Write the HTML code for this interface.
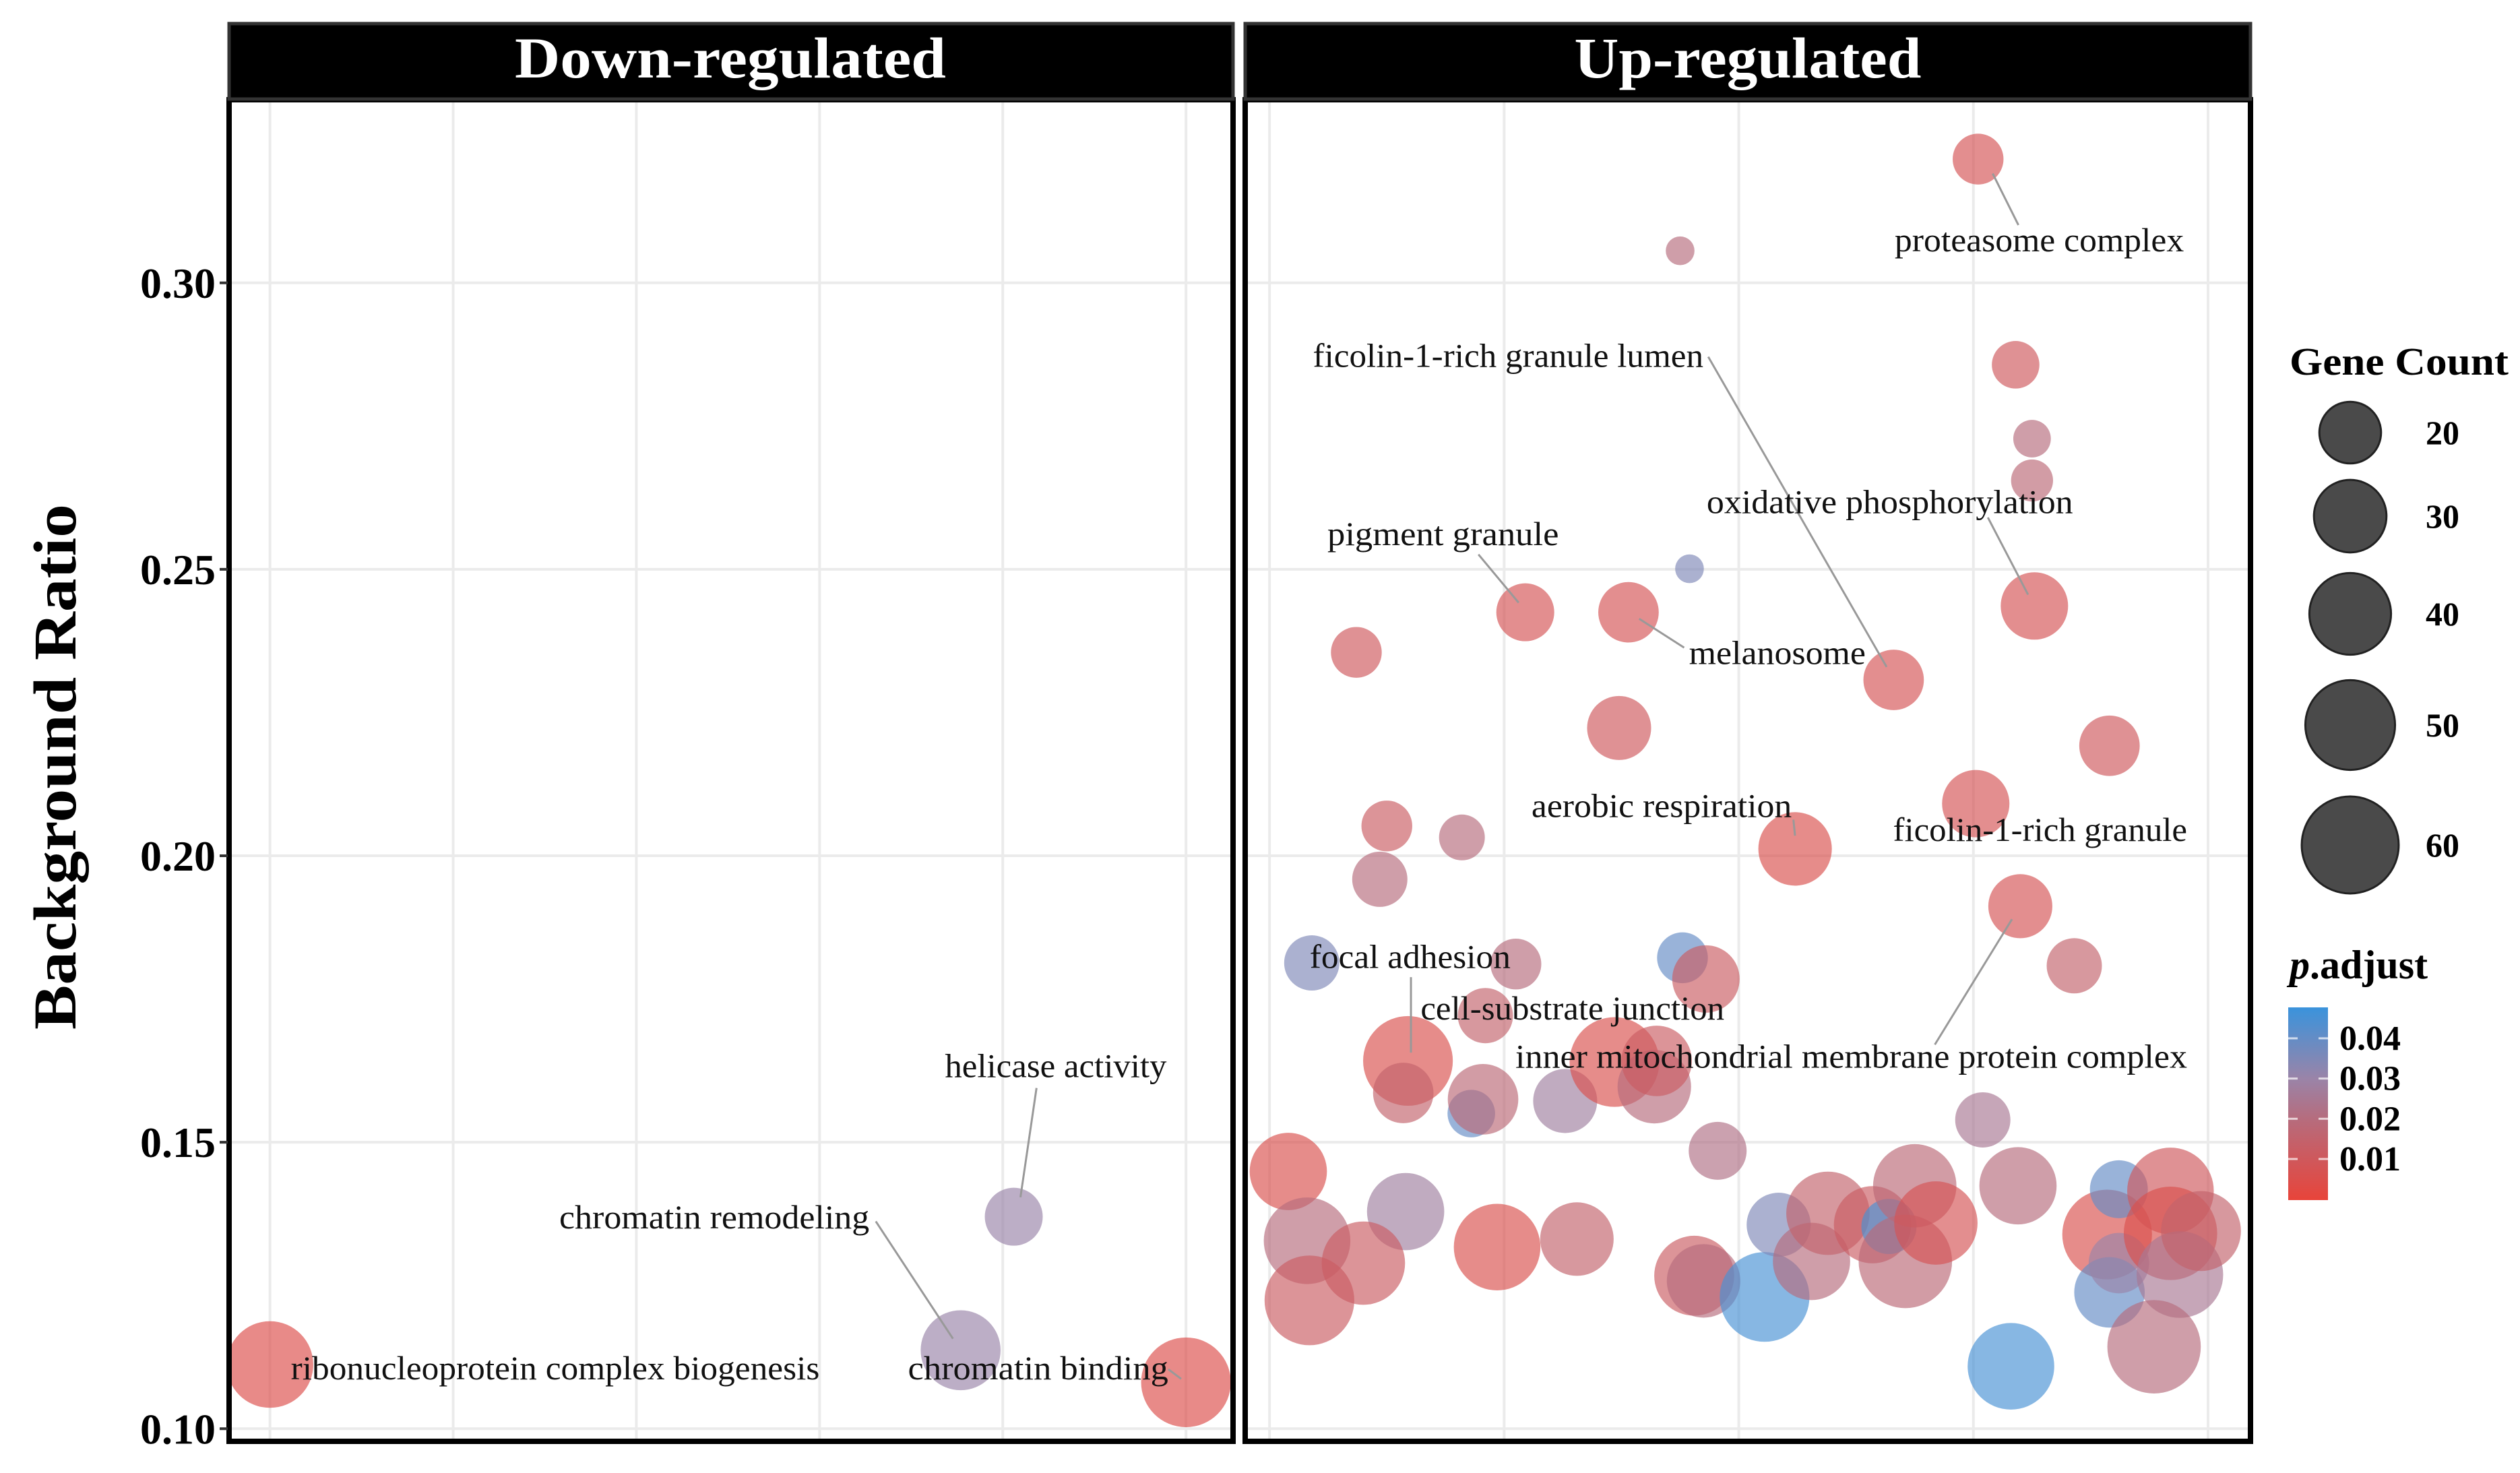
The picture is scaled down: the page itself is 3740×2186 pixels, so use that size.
<!DOCTYPE html>
<html><head><meta charset="utf-8"><style>
html,body{margin:0;padding:0;background:#fff;}
svg{display:block;}
text{font-family:"Liberation Serif",serif;}
</style></head><body>
<svg id="chart" width="3740" height="2186" viewBox="0 0 3740 2186" xmlns="http://www.w3.org/2000/svg">
<defs>
<linearGradient id="pgrad" x1="0" y1="1" x2="0" y2="0">
<stop offset="0" stop-color="#e8443a"/>
<stop offset="0.42" stop-color="#b66c7d"/>
<stop offset="0.63" stop-color="#9a84a8"/>
<stop offset="1" stop-color="#3a93dc"/>
</linearGradient>
<clipPath id="clipL"><rect x="344" y="150" width="1482" height="1985"/></clipPath>
<clipPath id="clipR"><rect x="1852" y="150" width="1484" height="1985"/></clipPath>
</defs>
<g id="gridL"></g>
<g id="gridR"></g>
<g id="ptsL" clip-path="url(#clipL)"></g>
<g id="ptsR" clip-path="url(#clipR)"></g>
<g id="labels"></g>
<rect x="340" y="148" width="1490" height="1991" fill="none" stroke="#000" stroke-width="8"/>
<rect x="1848" y="148" width="1492" height="1991" fill="none" stroke="#000" stroke-width="8"/>
<rect x="340" y="35" width="1490" height="112" fill="#000" stroke="#333" stroke-width="5"/>
<text x="1084" y="115" text-anchor="middle" font-size="86" font-weight="bold" fill="#fff" textLength="640" lengthAdjust="spacingAndGlyphs">Down-regulated</text>
<rect x="1848" y="35" width="1492" height="112" fill="#000" stroke="#333" stroke-width="5"/>
<text x="2594" y="115" text-anchor="middle" font-size="86" font-weight="bold" fill="#fff" textLength="515" lengthAdjust="spacingAndGlyphs">Up-regulated</text>
<g id="yaxis"></g>
<text transform="translate(112,1138) rotate(-90)" text-anchor="middle" font-size="90" font-weight="bold" fill="#000" textLength="780" lengthAdjust="spacingAndGlyphs">Background Ratio</text>
<g id="sizeLegend">
<text x="3398" y="556" font-size="58" font-weight="bold" textLength="325" lengthAdjust="spacingAndGlyphs">Gene Count</text>
</g>
<g id="colorLegend">
<text x="3398" y="1452" font-size="60" font-weight="bold"><tspan font-style="italic">p</tspan>.adjust</text>
<rect x="3396" y="1495" width="59" height="286" fill="url(#pgrad)"/>
</g>
</svg>
<script>
const yTicks = [0.10, 0.15, 0.20, 0.25, 0.30];
const yTickLabels = ["0.10", "0.15", "0.20", "0.25", "0.30"];
const downX = [0, 4.06, 3.77, 5.0];
const downY = [0.1112, 0.1370, 0.1137, 0.1081];
const downCount = [46, 17, 38, 50];
const downP = [0.005, 0.03, 0.03, 0.005];
const upX = [3.02,1.75,3.18,3.25,3.25,1.79,3.26,1.09,1.53,0.37,2.66,1.49,3.58,3.01,2.24,0.50,0.82,0.47,3.20,0.18,1.05,1.76,1.86,3.43,0.92,0.59,0.57,0.86,0.91,1.26,1.47,1.64,1.65,1.91,3.04,0.08,0.16,0.58,0.40,0.17,0.97,1.31,1.81,1.85,2.11,2.17,2.31,2.38,2.57,2.64,2.71,2.75,2.84,3.19,3.16,3.57,3.62,3.58,3.62,3.84,3.84,3.88,3.97,3.77];
const upY = [0.3216,0.3056,0.2857,0.2728,0.2655,0.2501,0.2436,0.2425,0.2425,0.2355,0.2307,0.2223,0.2192,0.2091,0.2012,0.2052,0.2032,0.1959,0.1912,0.1813,0.1811,0.1822,0.1785,0.1808,0.1721,0.1642,0.1586,0.1550,0.1575,0.1572,0.1640,0.1597,0.1642,0.1485,0.1539,0.1449,0.1328,0.1379,0.1289,0.1224,0.1317,0.1331,0.1267,0.1258,0.1230,0.1356,0.1292,0.1376,0.1356,0.1353,0.1292,0.1424,0.1359,0.1424,0.1109,0.1339,0.1418,0.1238,0.1289,0.1415,0.1341,0.1269,0.1345,0.1143];
const upCount = [12,2,10,5,7,2,25,17,19,12,19,22,19,25,31,12,9,15,22,15,12,12,25,15,15,50,19,10,28,22,50,31,28,17,15,35,46,35,42,50,46,31,38,31,50,22,35,42,35,15,55,42,42,35,46,50,17,28,19,46,55,46,38,55];
const upP = [0.008,0.02,0.01,0.02,0.018,0.035,0.008,0.008,0.008,0.01,0.008,0.01,0.01,0.008,0.006,0.012,0.02,0.02,0.008,0.035,0.02,0.04,0.012,0.015,0.015,0.006,0.015,0.04,0.018,0.028,0.006,0.02,0.012,0.022,0.025,0.006,0.02,0.028,0.012,0.012,0.006,0.015,0.012,0.02,0.045,0.035,0.02,0.015,0.012,0.045,0.018,0.018,0.008,0.02,0.045,0.006,0.04,0.04,0.03,0.01,0.006,0.025,0.015,0.02];
const legendCounts = [20, 30, 40, 50, 60];
const pTicks = [0.01, 0.02, 0.03, 0.04];
const pTickLabels = ["0.01", "0.02", "0.03", "0.04"];
const downGridX = [0,1,2,3,4,5];
const upGridX = [0,1,2,3,4];
const S = 2.385;
function yScale(v){ return (176 + (0.30 - v) * 3565) * S; }
function xLeft(i){ return (168 + 114 * i) * S; }
function xRight(i){ return (790 + 146 * i) * S; }
function rScale(c){ return 8 * Math.sqrt(c) + 10; }
function pBarY(p){ return 1720 - (p - 0.01) * 5970; }
function lerp(a,b,t){ return a.map((v,i)=>Math.round(v+(b[i]-v)*t)); }
function pColor(p){
  const stops=[[0.0,[232,68,58]],[0.02,[182,108,125]],[0.03,[154,132,168]],[0.0477,[58,147,220]]];
  if(p<=stops[0][0]) return 'rgb('+stops[0][1]+')';
  for(let i=1;i<stops.length;i++){ if(p<=stops[i][0]){ const t=(p-stops[i-1][0])/(stops[i][0]-stops[i-1][0]); return 'rgb('+lerp(stops[i-1][1],stops[i][1],t)+')'; } }
  return 'rgb('+stops[stops.length-1][1]+')';
}
const NS='http://www.w3.org/2000/svg';
function mk(tag, parent){ const e=document.createElementNS(NS,tag); parent.appendChild(e); return e; }
const gL=document.getElementById('gridL'), gR=document.getElementById('gridR');
function grid(g, xs, xf, x0, x1){
  yTicks.forEach(v=>{ const l=mk('line',g);
    
    
    l.setAttribute('x1',x0); l.setAttribute('x2',x1); l.setAttribute('y1',yScale(v)); l.setAttribute('y2',yScale(v)); l.setAttribute('stroke','#ebebeb'); l.setAttribute('stroke-width','4'); });
  xs.forEach(i=>{ const l=mk('line',g);
    
    
    l.setAttribute('x1',xf(i)); l.setAttribute('x2',xf(i)); l.setAttribute('y1',150); l.setAttribute('y2',2135); l.setAttribute('stroke','#ebebeb'); l.setAttribute('stroke-width','4'); });
}
grid(gL, downGridX, xLeft, 344, 1826);
grid(gR, upGridX, xRight, 1852, 3336);
function pts(g, xs, ys, cs, ps, xf){
  xs.forEach((x,i)=>{ const c=mk('circle',g);
    
    
    c.setAttribute('cx',xf(x)); c.setAttribute('cy',yScale(ys[i])); c.setAttribute('r',rScale(cs[i]));
    c.setAttribute('fill',pColor(ps[i])); c.setAttribute('fill-opacity','0.66'); });
}
pts(document.getElementById('ptsL'), downX, downY, downCount, downP, xLeft);
pts(document.getElementById('ptsR'), upX, upY, upCount, upP, xRight);
const labelText = ["proteasome complex","ficolin-1-rich granule lumen","oxidative phosphorylation","pigment granule","melanosome","aerobic respiration","ficolin-1-rich granule","focal adhesion","cell-substrate junction","inner mitochondrial membrane protein complex","helicase activity","chromatin remodeling","ribonucleoprotein complex biogenesis","chromatin binding"];
const labelBox = [[1179,1359,150],[817,1060,222],[1062,1290,313],[826,970,333],[1051,1161,407],[953,1115,502],[1178,1361,517],[815,940,596],[884,1073,628],[943,1361,658],[588,726,664],[348,541,758],[181,510,852],[565,727,852]];
const leaderLines = [[1240,108,1256,140],[1063,222,1174,415],[1237,322,1262,370],[920,345,945,375],[1020,385,1048,403],[1116,510,1117,520],null,[878,608,878,655],null,[1204,650,1252,572],[645,677,635,745],[545,760,593,833],null,[727,852,735,858]];
const lg=document.getElementById('labels');
leaderLines.forEach(L=>{ if(!L) return; const l=mk('line',lg);
  
  
  l.setAttribute('x1',L[0]*S); l.setAttribute('y1',L[1]*S); l.setAttribute('x2',L[2]*S); l.setAttribute('y2',L[3]*S); l.setAttribute('stroke','#999'); l.setAttribute('stroke-width','3'); });
labelText.forEach((t,i)=>{ const b=labelBox[i]; const e=mk('text',lg);
  
  
  e.setAttribute('x',b[0]*S); e.setAttribute('y',b[2]*S+15); e.setAttribute('font-size','50'); e.setAttribute('fill','#111');
  e.setAttribute('textLength',(b[1]-b[0])*S); e.setAttribute('lengthAdjust','spacingAndGlyphs'); e.textContent=t; });
const ya=document.getElementById('yaxis');
yTicks.forEach((v,i)=>{ const l=mk('line',ya);
  
  
  l.setAttribute('x1',326); l.setAttribute('x2',338); l.setAttribute('y1',yScale(v)); l.setAttribute('y2',yScale(v)); l.setAttribute('stroke','#333'); l.setAttribute('stroke-width','4');
  const t=mk('text',ya);
  
  
  t.setAttribute('x',320); t.setAttribute('y',yScale(v)+22); t.setAttribute('text-anchor','end'); t.setAttribute('font-size','64'); t.setAttribute('font-weight','bold'); t.textContent=yTickLabels[i]; });
const sl=document.getElementById('sizeLegend');
const legY=[642,766,911,1076,1254];
legendCounts.forEach((c,i)=>{ const e=mk('circle',sl);
  
  
  e.setAttribute('cx',3488); e.setAttribute('cy',legY[i]); e.setAttribute('r',rScale(c)); e.setAttribute('fill','#4a4a4a'); e.setAttribute('stroke','#222'); e.setAttribute('stroke-width','3');
  const t=mk('text',sl);
  
  
  t.setAttribute('x',3600); t.setAttribute('y',legY[i]+17); t.setAttribute('font-size','50'); t.setAttribute('font-weight','bold'); t.textContent=String(c); });
const cl=document.getElementById('colorLegend');
pTicks.forEach((p,i)=>{ const y=pBarY(p);
  [[3396,3410],[3441,3455]].forEach(s=>{ const l=mk('line',cl);
    
    
    l.setAttribute('x1',s[0]); l.setAttribute('x2',s[1]); l.setAttribute('y1',y); l.setAttribute('y2',y); l.setAttribute('stroke','#fff'); l.setAttribute('stroke-opacity','0.7'); l.setAttribute('stroke-width','3'); });
  const t=mk('text',cl);
  
  
  t.setAttribute('x',3472); t.setAttribute('y',y+17); t.setAttribute('font-size','52'); t.setAttribute('font-weight','bold'); t.textContent=pTickLabels[i]; });
</script>
</body></html>
